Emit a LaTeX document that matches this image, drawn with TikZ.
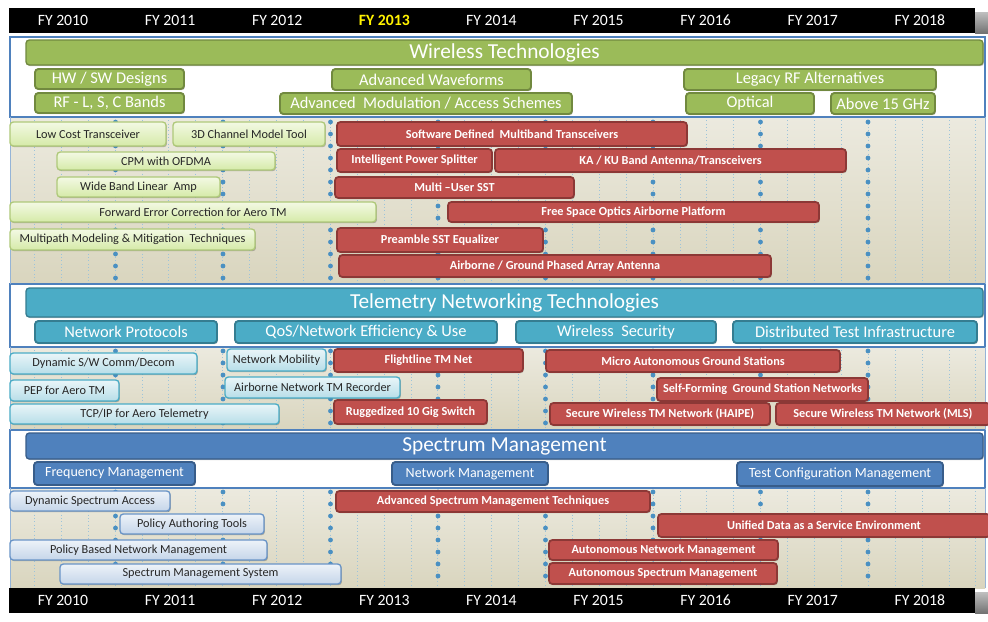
\documentclass[tikz,border=0pt]{standalone}
\usepackage{fontspec}
\setmainfont{Carlito}
\usetikzlibrary{shadows}
\definecolor{olive}{HTML}{9BBB59}
\definecolor{oliveD}{HTML}{71893F}
\definecolor{aqua}{HTML}{4BACC6}
\definecolor{aquaD}{HTML}{357D91}
\definecolor{sblue}{HTML}{4F81BD}
\definecolor{sblueD}{HTML}{385D8A}
\definecolor{rred}{HTML}{C0504D}
\definecolor{rredD}{HTML}{8C3836}
\definecolor{beigeT}{HTML}{ECEADF}
\definecolor{beigeB}{HTML}{D9D5BE}
\definecolor{dotc}{HTML}{4A90C2}
\definecolor{gridc}{HTML}{9CC3DA}
\definecolor{frame}{HTML}{4F81BD}
\definecolor{txt}{HTML}{262626}
\definecolor{lgT}{HTML}{F3F9E4}
\definecolor{lgB}{HTML}{D5EAA8}
\newcommand\mk[7]{\node[#1, minimum width={(#5-#3)*0.75pt}, minimum height={(#6-#4)*0.75pt}] (#2) at ({(#3+#5)/2},{(#4+#6)/2}) {#7};}
\tikzset{
  base/.style={rounded corners=2.5pt, inner sep=0pt, align=center,
    drop shadow={shadow xshift=0.7pt, shadow yshift=-0.9pt, opacity=0.25, fill=black}},
  hdr/.style={base, line width=1pt, text=white, font=\fontsize{16}{18}\selectfont},
  sub/.style={base, line width=1.4pt, text=white, font=\fontsize{12.3}{14}\selectfont},
  gbar/.style={base, draw=olive!80, line width=1pt, top color=lgT, bottom color=lgB, text=txt, font=\fontsize{9.2}{10}\selectfont},
  abar/.style={base, draw=aqua, line width=1pt, top color=aqua!12, bottom color=aqua!40, text=txt, font=\fontsize{9.2}{10}\selectfont},
  bbar/.style={base, draw=sblue!85, line width=1pt, top color=sblue!10, bottom color=sblue!33, text=txt, font=\fontsize{9.2}{10}\selectfont},
  rbar/.style={base, draw=rredD, line width=1.3pt, fill=rred, text=white, font=\bfseries\fontsize{9.2}{10}\selectfont},
  yr/.style={text=white, font=\fontsize{11.8}{12}\selectfont, inner sep=0pt},
  secbox/.style={draw=frame, line width=0.9pt, fill=white}
}
\begin{document}
\begin{tikzpicture}[x=0.75pt,y=-0.75pt]
\useasboundingbox (0,0) rectangle (988,621);
\fill[white] (0,0) rectangle (988,621);
% beige areas
\shade[top color=beigeT, bottom color=beigeB] (10,117) rectangle (985,284);
\shade[top color=beigeT, bottom color=beigeB] (10,347) rectangle (985,430);
\shade[top color=beigeT, bottom color=beigeB] (10,488) rectangle (985,588);
% grid lines
\foreach \k in {0,...,35}{
  \draw[gridc, dotted, line width=0.5pt] ({34.3+26.9*\k},117) -- ({34.3+26.9*\k},284);
  \draw[gridc, dotted, line width=0.5pt] ({34.3+26.9*\k},347) -- ({34.3+26.9*\k},430);
  \draw[gridc, dotted, line width=0.5pt] ({34.3+26.9*\k},488) -- ({34.3+26.9*\k},588);
}
% year boundary dots
\foreach \x in {115.5,223,330.5,438,545.5,653,760.5,868}{
  \foreach \y in {122,134,...,280}{\fill[dotc] (\x,\y) circle (2.4);}
  \foreach \y in {351,363,...,426}{\fill[dotc] (\x,\y) circle (2.4);}
  \foreach \y in {492,504,...,586}{\fill[dotc] (\x,\y) circle (2.4);}
}
% section frames
\draw[secbox] (10,37) rectangle (985,117);
\draw[secbox] (10,284) rectangle (985,347);
\draw[secbox] (10,430) rectangle (985,488);
\draw[frame!60, line width=0.6pt] (10,117) -- (10,284) (985,117) -- (985,284)
  (10,347) -- (10,430) (985,347) -- (985,430) (10,488) -- (10,588) (985,488) -- (985,588);

% top and bottom bars
\fill[black] (9,8) rectangle (975,33);
\shade[top color=gray!50, bottom color=gray!90!black] (975,12) rectangle (988,33);
\fill[black] (9,588) rectangle (975,613);
\shade[top color=gray!50, bottom color=gray!90!black] (975,592) rectangle (988,613);
\foreach \i/\y in {0/2010,1/2011,2/2012,4/2014,5/2015,6/2016,7/2017,8/2018}{
  \node[yr] (t\y) at ({63+107.1*\i},20.5) {FY \y};
}
\node[yr, text={yellow}, font=\bfseries\fontsize{11.8}{12}\selectfont] (t2013) at (384.3,20.5) {FY 2013};
\foreach \i/\y in {0/2010,1/2011,2/2012,3/2013,4/2014,5/2015,6/2016,7/2017,8/2018}{
  \node[yr] (b\y) at ({63+107.1*\i},600.5) {FY \y};
}

% ===== Wireless =====
\mk{hdr, fill=olive, draw=oliveD}{wt}{26}{40}{983}{65}{Wireless Technologies}
\mk{sub, fill=olive, draw=oliveD}{hw}{35}{69}{184}{89}{HW / SW Designs}
\mk{sub, fill=olive, draw=oliveD}{rf}{35}{93}{184}{113}{RF - L, S, C Bands}
\mk{sub, fill=olive, draw=oliveD}{aw}{332}{69}{531}{90}{Advanced Waveforms}
\mk{sub, fill=olive, draw=oliveD}{am}{280}{93}{572}{114}{Advanced~ Modulation / Access Schemes}
\mk{sub, fill=olive, draw=oliveD}{lr}{684}{69}{936}{90}{Legacy RF Alternatives}
\mk{sub, fill=olive, draw=oliveD}{op}{686}{93}{814}{114}{Optical}
\mk{sub, fill=olive, draw=oliveD}{ab}{831}{93}{935}{114}{Above 15 GHz}

\mk{gbar}{lct}{10}{122}{166}{146}{Low Cost Transceiver}
\mk{gbar}{cmt}{173}{122}{325}{146}{3D Channel Model Tool}
\mk{gbar}{cpm}{57}{152}{275}{170}{CPM with OFDMA}
\mk{gbar}{wbl}{57}{177}{220}{197}{Wide Band Linear~ Amp}
\mk{gbar}{fec}{10}{202}{376}{222}{Forward Error Correction for Aero TM}
\mk{gbar}{mmm}{10}{229}{255}{250}{Multipath Modeling \& Mitigation~ Techniques}

\mk{rbar}{sdm}{337}{122}{687}{146}{Software Defined~ Multiband Transceivers}
\mk{rbar}{ips}{337}{149}{492}{172}{Intelligent Power Splitter}
\mk{rbar}{kaku}{495}{149}{846}{172}{KA / KU Band Antenna/Transceivers}
\mk{rbar}{mus}{335}{177}{574}{198}{Multi --User SST}
\mk{rbar}{fso}{448}{202}{819}{222}{Free Space Optics Airborne Platform}
\mk{rbar}{pse}{337}{228}{543}{252}{Preamble SST Equalizer}
\mk{rbar}{agp}{339}{255}{771}{277}{Airborne / Ground Phased Array Antenna}

% ===== Telemetry =====
\mk{hdr, fill=aqua, draw=aquaD}{tn}{26}{288}{983}{317}{Telemetry Networking Technologies}
\mk{sub, fill=aqua, draw=aquaD}{np}{35}{321}{217}{343}{Network Protocols}
\mk{sub, fill=aqua, draw=aquaD}{qos}{235}{321}{497}{343}{QoS/Network Efficiency \& Use}
\mk{sub, fill=aqua, draw=aquaD}{ws}{516}{321}{716}{343}{Wireless~ Security}
\mk{sub, fill=aqua, draw=aquaD}{dti}{733}{321}{977}{343}{Distributed Test Infrastructure}

\mk{abar}{dsw}{10}{353}{197}{374}{Dynamic S/W Comm/Decom}
\mk{abar}{nm}{227}{349}{326}{371}{Network Mobility}
\mk{abar}{pep}{10}{380}{119}{401}{PEP for Aero TM}
\mk{abar}{antr}{225}{377}{400}{398}{Airborne Network TM Recorder}
\mk{abar}{tcp}{10}{404}{279}{424}{TCP/IP for Aero Telemetry}

\mk{rbar}{ftn}{334}{349}{523}{372}{Flightline TM Net}
\mk{rbar}{r10}{334}{400}{487}{424}{Ruggedized 10 Gig Switch}
\mk{rbar}{mag}{546}{350}{840}{372}{Micro Autonomous Ground Stations}
\mk{rbar}{sfg}{657}{378}{868}{401}{Self-Forming~ Ground Station Networks}
\mk{rbar}{swh}{550}{403}{770}{425}{Secure Wireless TM Network (HAIPE)}
\mk{rbar}{swm}{776}{403}{990}{425}{Secure Wireless TM Network (MLS)}

% ===== Spectrum =====
\mk{hdr, fill=sblue, draw=sblueD}{sm}{26}{433}{983}{459}{Spectrum Management}
\mk{sub, fill=sblue, draw=sblueD, font=\fontsize{10.5}{12}\selectfont}{fm}{34}{462}{195}{485}{Frequency Management}
\mk{sub, fill=sblue, draw=sblueD, font=\fontsize{10.5}{12}\selectfont}{nwm}{392}{462}{548}{485}{Network Management}
\mk{sub, fill=sblue, draw=sblueD, font=\fontsize{10.5}{12}\selectfont}{tcm}{737}{462}{943}{486}{Test Configuration Management}

\mk{bbar}{dsa}{10}{491}{170}{511}{Dynamic Spectrum Access}
\mk{bbar}{pat}{120}{514}{264}{534}{Policy Authoring Tools}
\mk{bbar}{pbn}{10}{540}{267}{560}{Policy Based Network Management}
\mk{bbar}{sms}{60}{564}{341}{584}{Spectrum Management System}

\mk{rbar}{asm}{336}{491}{650}{512}{Advanced Spectrum Management Techniques}
\mk{rbar}{uds}{658}{514}{990}{537}{Unified Data as a Service Environment}
\mk{rbar}{anm}{549}{540}{778}{560}{Autonomous Network Management}
\mk{rbar}{asp}{549}{563}{777}{584}{Autonomous Spectrum Management}
\end{tikzpicture}
\end{document}
